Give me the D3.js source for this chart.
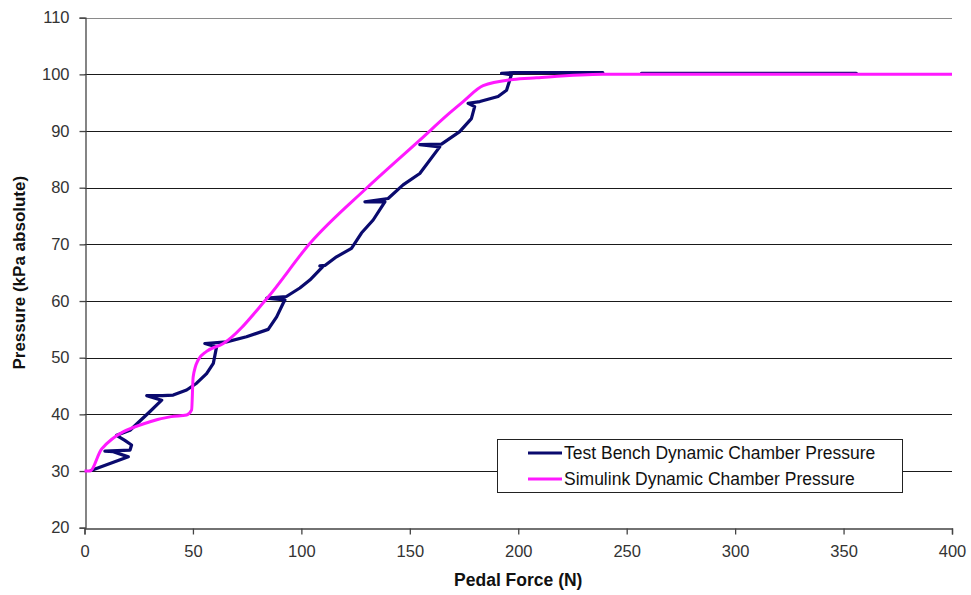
<!DOCTYPE html>
<html>
<head>
<meta charset="utf-8">
<script src="https://cdn.jsdelivr.net/npm/d3@7"></script>
<style>
  body { margin: 0; background: #fff; }
  svg { display: block; font-family: Arial, "Liberation Sans", sans-serif; }
</style>
</head>
<body>
<svg id="chart" width="971" height="595"></svg>
<script>
// Test bench measurement: pedal force (N) vs chamber pressure (kPa abs).
// null entries mark a gap in the recorded trace.
const benchForce = [3, 20.2, 13.3, 9.4, 21, 21.7, 18.6, 14.8, 21, 30.2, 35.6, 28.7, 36, 40.9, 47.1, 51.7,
  56.3, 59.4, 60.9, 55.5, 65.5, 74.7, 84.7, 88.6, 91.6, 92.4, 84, 93.1, 99.3, 103.9, 110, 108.5, 111,
  116.2, 123.1, 127.7, 133.1, 138.5, 129.3, 140, 146.9, 154.6, 163.8, 154.6, 164.6, 173, 178.4, 179.9,
  176.9, 182.3, 190.7, 194.6, 196.1, 196.8, 192.3, 198, 239, null, 256.8, 355.9];
const benchPressure = [30.1, 32.5, 33.4, 33.5, 33.7, 34.6, 35.4, 36.3, 37.2, 40.5, 42.5, 43.3, 43.3, 43.4, 44.3, 45.5,
  47.2, 49, 51.9, 52.5, 52.8, 53.7, 55, 57.2, 59.6, 60.2, 60.5, 60.8, 62.3, 63.7, 66.1, 66.2, 66.3,
  67.8, 69.3, 72, 74.3, 77.5, 77.5, 78.1, 80.5, 82.5, 87.2, 87.6, 87.7, 89.9, 92.2, 94.3,
  94.9, 95.2, 96.1, 97.2, 99, 99.9, 100.2, 100.3, 100.3, null, 100.2, 100.2];

// Simulink model output for the same chamber.
const simForce = [0, 2.5, 7.9, 30.2, 40, 47.1, 49.4, 50.1, 52.4, 56.3, 64, 84, 104, 130, 154.6, 168.4,
  174.6, 183.8, 197.6, 208.4, 239, 400];
const simPressure = [30, 30, 33.9, 38.7, 39.6, 39.9, 40.8, 46.6, 49.6, 51.1, 52.5, 60.4, 70.2, 79.9, 88.4, 93.2,
  95.2, 98, 99.1, 99.4, 100, 100];

const xTicks = [0, 50, 100, 150, 200, 250, 300, 350, 400];
const yTicks = [20, 30, 40, 50, 60, 70, 80, 90, 100, 110];
const seriesNames = ["Test Bench Dynamic Chamber Pressure", "Simulink Dynamic Chamber Pressure"];
const seriesColors = ["#0a0a6e", "#ff19ff"];

const svg = d3.select("#chart");
const plotLeft = 84.5, plotRight = 952, plotTop = 17.7, plotBottom = 527.7;

const x = d3.scaleLinear().domain([0, 400]).range([plotLeft, plotRight]);
const y = d3.scaleLinear().domain([20, 110]).range([plotBottom, plotTop]);

// horizontal gridlines
svg.append("g")
  .selectAll("line")
  .data(yTicks.filter(d => d > 20))
  .join("line")
  .attr("x1", plotLeft).attr("x2", plotRight)
  .attr("y1", d => Math.round(y(d)) + 0.5).attr("y2", d => Math.round(y(d)) + 0.5)
  .attr("stroke", d => d === 110 ? "#8a8a8a" : "#1a1a1a")
  .attr("stroke-width", 1);

// axes
const xAxis = svg.append("g")
  .attr("transform", `translate(0,${Math.round(plotBottom) + 0.5})`)
  .call(d3.axisBottom(x).tickValues(xTicks).tickSize(6).tickPadding(11));
const yAxis = svg.append("g")
  .attr("transform", `translate(${Math.round(plotLeft) + 0.5},0)`)
  .call(d3.axisLeft(y).tickValues(yTicks).tickSize(6).tickPadding(10));

[xAxis, yAxis].forEach(g => {
  g.select(".domain").attr("stroke", "#444").attr("stroke-width", 1.3);
  g.selectAll(".tick line").attr("stroke", "#444").attr("stroke-width", 1.3);
  g.selectAll(".tick text")
    .attr("fill", "#333")
    .style("font-size", "16.5px")
    .style("font-family", "Arial, 'Liberation Sans', sans-serif");
});

// data lines
const benchData = benchForce.map((f, i) => ({ f, p: benchPressure[i] }));
const simData = simForce.map((f, i) => ({ f, p: simPressure[i] }));

const line = d3.line()
  .defined(d => d.f !== null && d.p !== null)
  .x(d => x(d.f))
  .y(d => y(d.p))
  .curve(d3.curveLinear);

svg.append("path")
  .datum(benchData)
  .attr("d", line)
  .attr("fill", "none")
  .attr("stroke", seriesColors[0])
  .attr("stroke-width", 3.2)
  .attr("stroke-linejoin", "round")
  .attr("stroke-linecap", "round");

svg.append("path")
  .datum(simData)
  .attr("d", line.curve(d3.curveMonotoneX))
  .attr("fill", "none")
  .attr("stroke", seriesColors[1])
  .attr("stroke-width", 3)
  .attr("stroke-linejoin", "round");

// axis titles
svg.append("text")
  .attr("x", (plotLeft + plotRight) / 2)
  .attr("y", 586)
  .attr("text-anchor", "middle")
  .style("font-size", "17.5px")
  .style("font-weight", "bold")
  .attr("fill", "#111")
  .text("Pedal Force (N)");

svg.append("text")
  .attr("transform", `translate(25,${(plotTop + plotBottom) / 2}) rotate(-90)`)
  .attr("text-anchor", "middle")
  .style("font-size", "17px")
  .style("font-weight", "bold")
  .attr("fill", "#111")
  .text("Pressure (kPa absolute)");

// legend
const legend = svg.append("g");
legend.append("rect")
  .attr("x", 497.5).attr("y", 439.5)
  .attr("width", 405).attr("height", 53)
  .attr("fill", "#fff")
  .attr("stroke", "#222")
  .attr("stroke-width", 1);

seriesNames.forEach((name, i) => {
  const ry = 453 + i * 26;
  legend.append("line")
    .attr("x1", 528).attr("x2", 562)
    .attr("y1", ry).attr("y2", ry)
    .attr("stroke", seriesColors[i])
    .attr("stroke-width", 3);
  legend.append("text")
    .attr("x", 564).attr("y", ry + 6)
    .style("font-size", "17.5px")
    .attr("fill", "#111")
    .text(name);
});
</script>
</body>
</html>
